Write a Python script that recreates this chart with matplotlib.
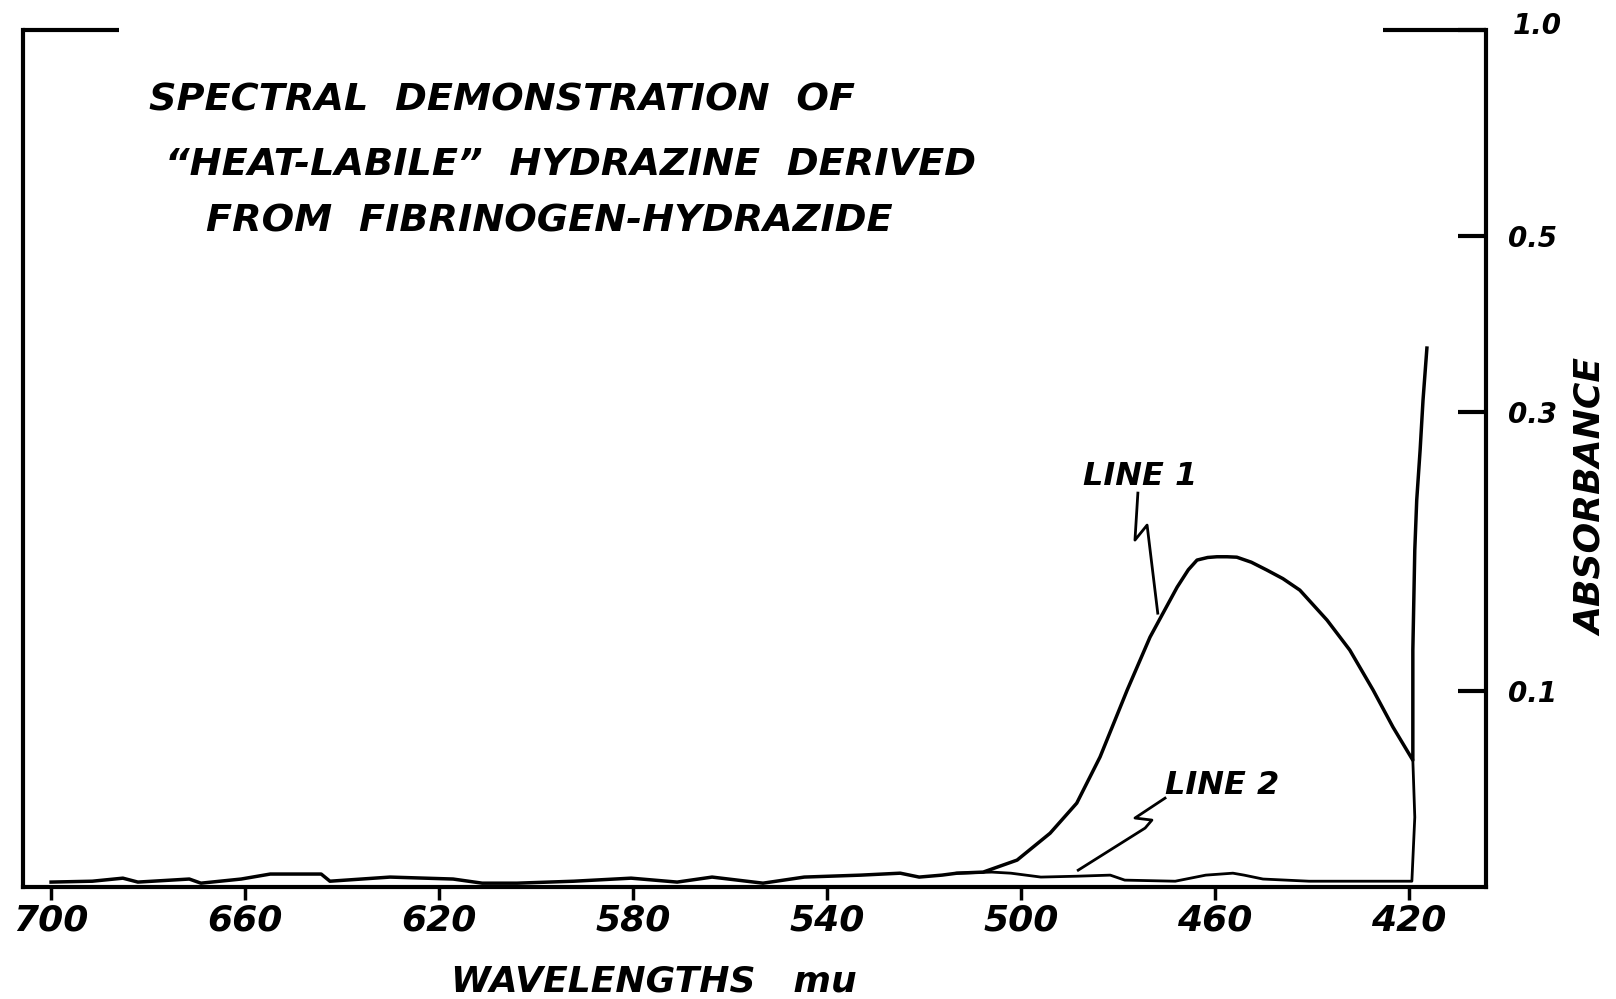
import numpy as np
import matplotlib
matplotlib.use("Agg")
import matplotlib.pyplot as plt
import matplotlib.transforms as mtransforms

# ---- data (wavelength in mu, absorbance) ----
line1_wl = [700, 691.5, 685.2, 682.1, 671.5, 669.1, 660.8, 654.8, 644.3, 642.5,
            630.1, 617.1, 611.1, 603.9, 592.2, 580.4, 570.9, 563.7, 553.2, 544.7,
            533.0, 524.9, 521.0, 516.3, 513.2, 507.8, 500.8, 494.0, 488.5, 483.7,
            478.1, 473.4, 467.8, 465.5, 463.7, 461.5, 459.6, 457.5, 455.5, 452.5, 449.3,
            446.0, 442.5, 436.9, 432.2,
            427.4, 423.3, 419.2, 419.2, 418.8, 418.4, 417.7, 417.1, 416.3]
line1_abs = [0.0023, 0.0027, 0.0041, 0.0023, 0.0037, 0.0018, 0.0037, 0.0060, 0.0060, 0.0027,
             0.0046, 0.0037, 0.0018, 0.0018, 0.0027, 0.0041, 0.0023, 0.0046, 0.0018, 0.0046,
             0.0055, 0.0064, 0.0046, 0.0055, 0.0064, 0.0069, 0.0125, 0.0253, 0.0401, 0.0638,
             0.1007, 0.1322, 0.1643, 0.1760, 0.1827, 0.1845, 0.1850, 0.1850, 0.1847, 0.1812, 0.1758,
             0.1700, 0.1623, 0.1429, 0.1243,
             0.1007, 0.0799, 0.0621, 0.1243, 0.1897, 0.2265, 0.2667, 0.3111, 0.3625]

line2_wl = [513.2, 506.0, 502.1, 495.9, 488.5, 481.6, 478.6, 468.2, 461.9, 456.3,
            454.0, 450.1, 440.6, 419.4, 418.8, 419.2]
line2_abs = [0.0064, 0.0069, 0.0064, 0.0046, 0.0050, 0.0055, 0.0032, 0.0027, 0.0055, 0.0064,
             0.0055, 0.0037, 0.0027, 0.0027, 0.0331, 0.0621]

x_ticks = [700, 660, 620, 580, 540, 500, 460, 420]
x_labels = ["700", "660", "620", "580", "540", "500", "460", "420"]
y_ticks = [0.1, 0.3, 0.5, 1.0]
y_labels = ["0.1", "0.3", "0.5", "1.0"]

title_lines = ["SPECTRAL  DEMONSTRATION  OF",
               "\u201cHEAT-LABILE\u201d  HYDRAZINE  DERIVED",
               "FROM  FIBRINOGEN-HYDRAZIDE"]

# ---- figure ----
fig = plt.figure(figsize=(16.16, 9.99), dpi=100)
ax = fig.add_axes([0.0142, 0.112, 0.9054, 0.858])

def fwd(a):
    a = np.asarray(a, dtype=float)
    return 1.0 - np.power(10.0, -a)

def inv(f):
    f = np.clip(np.asarray(f, dtype=float), -1e6, 1 - 1e-12)
    return -np.log10(1.0 - f)

ax.set_yscale("function", functions=(fwd, inv))
ax.set_xlim(705.8, 404.1)
ax.set_ylim(0.0, 1.0)

ax.plot(line1_wl, line1_abs, color="black", lw=2.5, solid_joinstyle="round")
ax.plot(line2_wl, line2_abs, color="black", lw=2.0, solid_joinstyle="round")

# spines
for s in ["left", "bottom", "right"]:
    ax.spines[s].set_linewidth(3)
ax.spines["top"].set_visible(False)
ax.plot([0, 0.0656], [1, 1], transform=ax.transAxes, color="black", lw=3,
        clip_on=False, solid_capstyle="butt")
ax.plot([0.9296, 1.0], [1, 1], transform=ax.transAxes, color="black", lw=3,
        clip_on=False, solid_capstyle="butt")

# ticks
ax.set_xticks(x_ticks)
ax.set_xticklabels(x_labels, fontsize=26, fontstyle="italic", fontweight="bold")
ax.tick_params(axis="x", direction="out", length=9, width=2.5, pad=3)
ax.yaxis.tick_right()
ax.set_yticks(y_ticks)
ax.set_yticklabels(y_labels, fontsize=20, fontstyle="italic", fontweight="bold")
ax.tick_params(axis="y", which="both", direction="in", length=20, width=3, pad=16)
ax.yaxis.set_minor_locator(matplotlib.ticker.NullLocator())

# titles / labels
ys = [0.918, 0.8425, 0.776]
xs = [0.0861, 0.097, 0.125]
for t, xx, yy in zip(title_lines, xs, ys):
    ax.text(xx, yy, t, transform=ax.transAxes, fontsize=27.5, fontstyle="italic",
            fontweight="bold", ha="left", va="center")

ax.text(0.431, -0.1097, "WAVELENGTHS   mu", transform=ax.transAxes, fontsize=26,
        fontstyle="italic", fontweight="bold", ha="center", va="center")
ax.text(1.0725, 0.455, "ABSORBANCE", transform=ax.transAxes, fontsize=26,
        fontstyle="italic", fontweight="bold", rotation=90, ha="center", va="center")

# annotations
ax.text(475.5, 0.2446, "LINE 1", fontsize=23, fontstyle="italic", fontweight="bold",
        ha="center", va="center")
ax.plot([475.9, 476.5, 474.0, 471.8], [0.2319, 0.1968, 0.2077, 0.1473],
        color="black", lw=2.0)
ax.text(458.6, 0.0492, "LINE 2", fontsize=23, fontstyle="italic", fontweight="bold",
        ha="center", va="center")
ax.plot([470.3, 476.5, 473.0, 474.4, 488.2], [0.0426, 0.0327, 0.0317, 0.0278, 0.0078],
        color="black", lw=2.0)

# nudge the top "1.0" label slightly upward, as in the hand-lettered original
fig.canvas.draw()
shift = mtransforms.ScaledTranslation(3 / 72, 5 / 72, fig.dpi_scale_trans)
for lab in ax.get_yticklabels():
    if lab.get_text() == "1.0":
        lab.set_transform(lab.get_transform() + shift)

fig.savefig("out.png", dpi=100)
